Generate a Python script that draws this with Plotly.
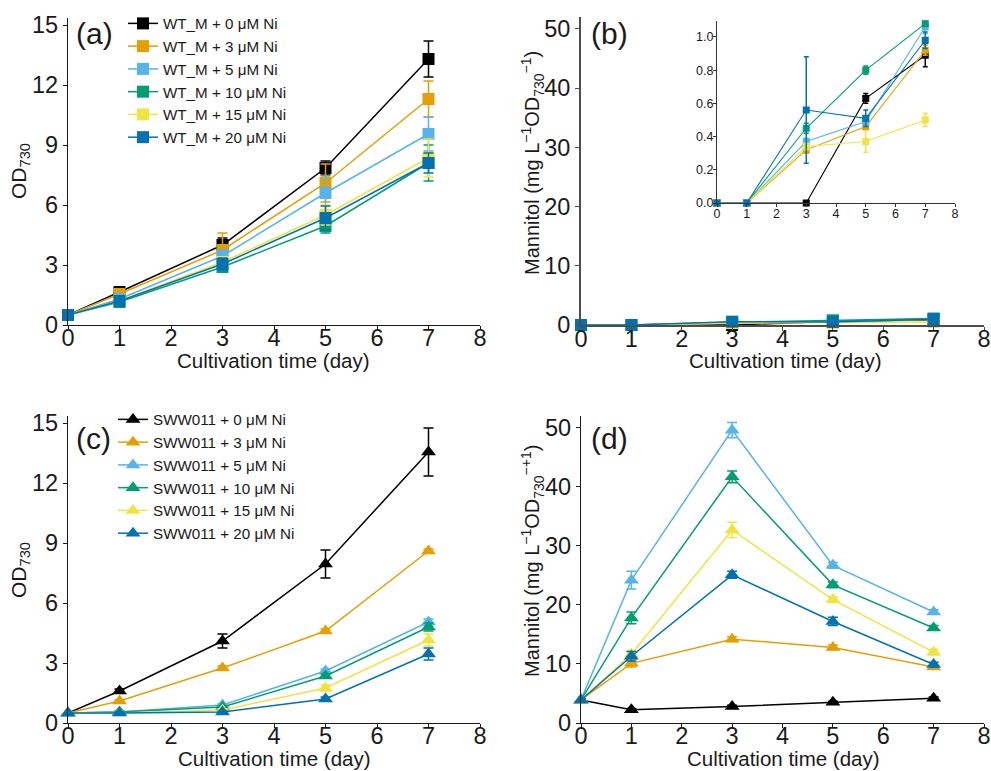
import plotly.graph_objects as go

# ---------------- data ----------------
days = [0, 1, 3, 5, 7]
ni_levels = [0, 3, 5, 10, 15, 20]
colors = ["#000000", "#E69F00", "#56B4E9", "#009E73", "#F0E442", "#0072B2"]
wt_names = ["WT_M + %d μM Ni" % n for n in ni_levels]
sww_names = ["SWW011 + %d μM Ni" % n for n in ni_levels]

# (a) WT_M OD730
wt_od_mean = [
    [0.5, 1.65, 4.0, 7.85, 13.3],
    [0.5, 1.55, 3.75, 7.1, 11.3],
    [0.5, 1.3, 3.45, 6.6, 9.55],
    [0.5, 1.15, 2.9, 4.95, 8.1],
    [0.5, 1.2, 3.15, 5.5, 8.35],
    [0.5, 1.2, 3.05, 5.35, 8.1],
]
wt_od_err = [
    [0.05, 0.15, 0.35, 0.35, 0.9],
    [0.05, 0.15, 0.85, 0.95, 0.9],
    [0.05, 0.1, 0.3, 0.85, 0.85],
    [0.05, 0.1, 0.2, 0.35, 0.9],
    [0.05, 0.1, 0.25, 0.5, 0.95],
    [0.05, 0.1, 0.3, 0.6, 0.5],
]
# (b) WT_M mannitol
wt_man_mean = [
    [0, 0, 0, 0.63, 0.89],
    [0, 0, 0.32, 0.46, 0.92],
    [0, 0, 0.37, 0.49, 1.06],
    [0, 0, 0.45, 0.80, 1.08],
    [0, 0, 0.34, 0.37, 0.50],
    [0, 0, 0.56, 0.51, 0.98],
]
wt_man_err = [
    [0, 0, 0, 0.03, 0.07],
    [0, 0, 0.02, 0.02, 0.03],
    [0, 0, 0.02, 0.03, 0.04],
    [0, 0, 0.03, 0.025, 0.01],
    [0, 0, 0.02, 0.065, 0.04],
    [0, 0, 0.32, 0.05, 0.05],
]
# (c) SWW011 OD730
sww_od_mean = [
    [0.5, 1.6, 4.1, 7.95, 13.55],
    [0.5, 1.1, 2.75, 4.6, 8.6],
    [0.5, 0.55, 0.9, 2.6, 5.05],
    [0.5, 0.55, 0.8, 2.35, 4.8],
    [0.5, 0.5, 0.65, 1.75, 4.15],
    [0.5, 0.5, 0.55, 1.2, 3.45],
]
sww_od_err = [
    [0.05, 0.1, 0.35, 0.7, 1.2],
    [0.03, 0.05, 0.1, 0.1, 0.1],
    [0.03, 0.05, 0.05, 0.1, 0.15],
    [0.03, 0.05, 0.05, 0.1, 0.2],
    [0.03, 0.03, 0.05, 0.15, 0.3],
    [0.03, 0.03, 0.05, 0.1, 0.3],
]
# (d) SWW011 mannitol
sww_man_mean = [
    [3.9, 2.25, 2.8, 3.5, 4.2],
    [3.9, 10.1, 14.2, 12.8, 9.5],
    [3.9, 24.2, 49.6, 26.7, 18.8],
    [3.9, 17.8, 41.7, 23.4, 16.1],
    [3.9, 11.7, 32.7, 20.9, 12.0],
    [3.9, 11.3, 25.1, 17.2, 9.9],
]
sww_man_err = [
    [0.1, 0.2, 0.2, 0.2, 0.2],
    [0.2, 0.6, 0.4, 0.4, 0.3],
    [0.2, 1.5, 1.3, 0.5, 0.4],
    [0.2, 1.0, 1.0, 0.5, 0.4],
    [0.2, 0.6, 1.3, 0.5, 0.5],
    [0.2, 0.8, 0.6, 0.7, 0.4],
]

W, H = 991, 771
FONT = "Liberation Sans, Arial, sans-serif"


def px(x):
    return min(1.0, max(0.0, x / W))


def py(y):
    return min(1.0, max(0.0, 1 - y / H))


fig = go.Figure()


def add_panel(means, errs, names, xa, ya, symbol, msize, legend=None,
              lw=1.5, ew=5, showleg=True):
    for i in range(6):
        fig.add_trace(go.Scatter(
            x=days, y=means[i], name=names[i] if names else None,
            mode="lines+markers", xaxis=xa, yaxis=ya,
            line=dict(color=colors[i], width=lw),
            marker=dict(symbol=symbol, size=msize, color=colors[i]),
            error_y=dict(type="data", array=errs[i], color=colors[i],
                         thickness=1.5, width=ew, visible=True),
            cliponaxis=False,
            showlegend=showleg and legend is not None,
            legend=legend if legend else "legend",
            legendgroup=(legend or "x") + str(i),
        ))


add_panel(wt_od_mean, wt_od_err, wt_names, "x", "y", "square", 12, legend="legend")
add_panel(wt_man_mean, wt_man_err, None, "x2", "y2", "square", 12, showleg=False)
add_panel(wt_man_mean, wt_man_err, None, "x5", "y5", "square", 7, showleg=False,
          lw=1.1, ew=2.5)
add_panel(sww_od_mean, sww_od_err, sww_names, "x3", "y3", "triangle-up", 13, legend="legend2")
add_panel(sww_man_mean, sww_man_err, None, "x4", "y4", "triangle-up", 13, showleg=False)


def axis(domain, rng, dtick, anchor, size=23.5, lc="#1a1a1a", lw=1.3, ticklen=4,
         standoff=0):
    return dict(domain=domain, range=rng, dtick=dtick, tick0=0, anchor=anchor,
                showline=True, linecolor=lc, linewidth=lw, ticks="outside",
                ticklen=ticklen, tickwidth=1, tickcolor=lc, showgrid=False,
                zeroline=False, tickfont=dict(family=FONT, size=size, color="#1a1a1a"),
                ticklabelstandoff=standoff, ticklabeloverflow="allow",
                automargin=False, fixedrange=True)


xl = [px(68), px(480)]
xr = [px(581), px(984)]
yt = [py(325), py(18)]
yb = [py(723), py(416)]

fig.update_layout(
    template="none",
    width=W, height=H, margin=dict(l=0, r=0, t=0, b=0, pad=0, autoexpand=False),
    paper_bgcolor="white", plot_bgcolor="rgba(0,0,0,0)",
    font=dict(family=FONT, color="#1a1a1a"),
    xaxis=axis(xl, [0, 8], 1, "y", standoff=-12),
    yaxis=axis(yt, [0, 15.35], 3, "x"),
    xaxis2=axis(xr, [0, 8], 1, "y2", lc="#4d4d4d", lw=2, standoff=-12),
    yaxis2=axis([py(325), py(17)], [0, 52], 10, "x2", lc="#4d4d4d", lw=2),
    xaxis3=axis(xl, [0, 8], 1, "y3", standoff=-12),
    yaxis3=axis(yb, [0, 15.35], 3, "x3"),
    xaxis4=axis(xr, [0, 8], 1, "y4", standoff=-12),
    yaxis4=axis(yb, [0, 52], 10, "x4"),
    xaxis5=axis([px(717), px(955)], [0, 8], 1, "y5", size=12.5, lc="#333333", lw=1.2,
                ticklen=3, standoff=-4),
    yaxis5=axis([py(203), py(21)], [0, 1.096], 0.2, "x5", size=12.5, lc="#333333", lw=1.2,
                ticklen=3, standoff=-3),
    legend=dict(x=px(123), y=py(7), xanchor="left", yanchor="top",
                bgcolor="rgba(0,0,0,0)", font=dict(family=FONT, size=15.2, color="#1a1a1a"),
                tracegroupgap=0, itemwidth=30, itemclick=False),
    legend2=dict(x=px(113), y=py(403), xanchor="left", yanchor="top",
                 bgcolor="rgba(0,0,0,0)", font=dict(family=FONT, size=15.2, color="#1a1a1a"),
                 tracegroupgap=0, itemwidth=30, itemclick=False),
)
fig.update_layout(yaxis5=dict(tickformat=".1f"))

annos = []


def ann(text, x, y, size, angle=0, xanchor="center"):
    annos.append(dict(text=text, x=px(x), y=py(y), xref="paper", yref="paper",
                      showarrow=False, textangle=angle, xanchor=xanchor, yanchor="middle",
                      font=dict(family=FONT, size=size, color="#1a1a1a")))


ann("(a)", 74, 34, 30, xanchor="left")
ann("(b)", 589, 34, 30, xanchor="left")
ann("(c)", 74, 438, 30, xanchor="left")
ann("(d)", 589, 438, 30, xanchor="left")
xt = "Cultivation time (day)"
ann(xt, 273, 360, 20.5)
ann(xt, 785, 360, 20.5)
ann(xt, 274, 758, 20.5)
ann(xt, 783, 758, 20.5)
ann("OD<sub>730</sub>", 20, 171, 21, angle=-90)
ann("OD<sub>730</sub>", 20, 570, 21, angle=-90)
ann("Mannitol (mg L<sup>−1</sup>OD<sub>730</sub><sup>−1</sup>)", 532, 163, 20, angle=-90)
ann("Mannitol (mg L<sup>−1</sup>OD<sub>730</sub><sup>−+1</sup>)", 532, 561, 20, angle=-90)
fig.update_layout(annotations=annos)

fig.write_html("out.html", config={"displayModeBar": False},
               post_script="document.body.style.margin='0';document.body.style.overflow='hidden';")
